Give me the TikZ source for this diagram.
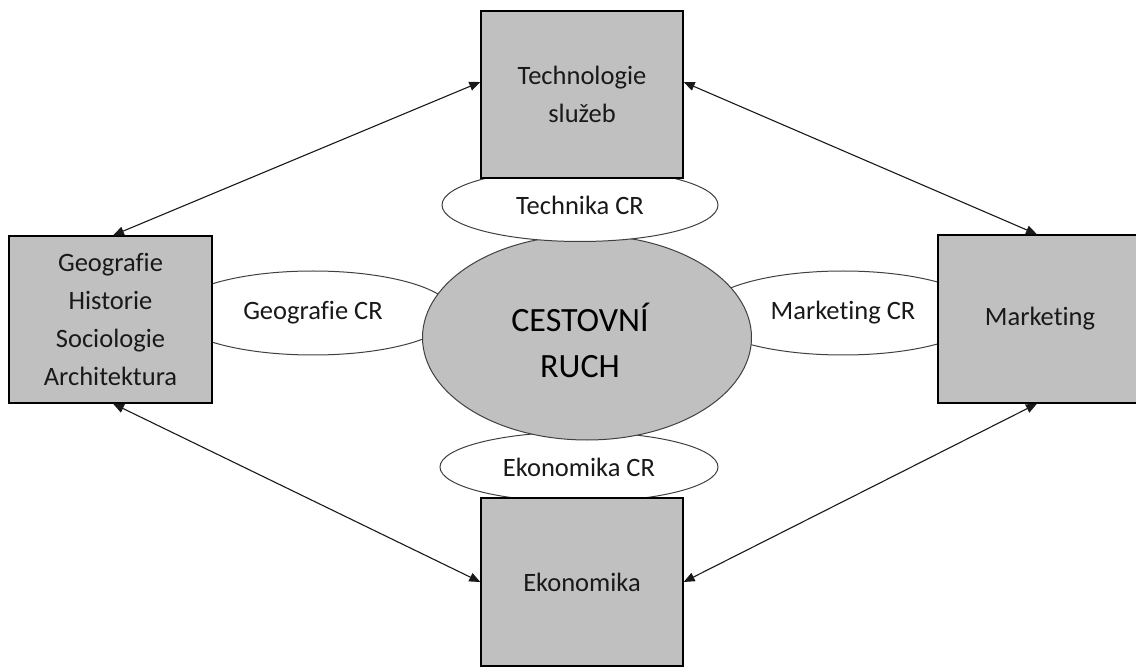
\documentclass[tikz,border=0pt]{standalone}
\usepackage{fontspec}
\setmainfont{Carlito}[Ligatures=NoCommon]
\usetikzlibrary{shapes.geometric,arrows.meta}
\definecolor{boxgray}{RGB}{192,192,192}
\definecolor{txt}{RGB}{25,25,25}
\begin{document}
\begin{tikzpicture}[x=1pt,y=-1pt,
  box/.style={draw=black, fill=boxgray, line width=1.3pt, inner sep=0pt, align=center,
    text=txt, font=\fontsize{26.5}{38}\selectfont},
  subell/.style={ellipse, draw=black!75, fill=white, line width=1pt, inner sep=0pt,
    text=txt, font=\fontsize{26.5}{38}\selectfont},
  mainell/.style={ellipse, draw=black!75, fill=boxgray, line width=1pt, inner sep=0pt},
  maintext/.style={align=center, text=black, inner sep=0pt, font=\fontsize{34}{46}\selectfont},
  arr/.style={line width=1.1pt, draw=black!90,
    {Triangle[length=11pt,width=9pt]}-{Triangle[length=11pt,width=9pt]}}]
\useasboundingbox (0,0) rectangle (1136,668);
\begin{scope}
\clip (0,0) rectangle (1136,668);
% small ellipses behind the central one
\node[subell, minimum width=278pt, minimum height=70pt] (ek) at (579,467) {Ekonomika CR};
\node[subell, minimum width=280pt, minimum height=84pt] (ge) at (313,313) {Geografie CR};
\node[subell, minimum width=280pt, minimum height=84pt] (ma) at (843,313) {Marketing CR};
% central ellipse
\node[mainell, minimum width=329pt, minimum height=205pt] (c) at (587,337.5) {};
\node[maintext] (ct) at (580,340) {CESTOVNÍ\\RUCH};
% ellipse in front of the central one
\node[subell, minimum width=276pt, minimum height=73pt] (te) at (580,205) {Technika CR};
% boxes
\node[box, minimum width=202pt, minimum height=167pt] (T) at (582,94.5) {Technologie\\služeb};
\node[box, minimum width=203pt, minimum height=167pt] (L) at (110.5,319.5) {Geografie\\Historie\\Sociologie\\Architektura};
\node[box, minimum width=204pt, minimum height=168pt] (R) at (1040,319) {Marketing};
\node[box, minimum width=202pt, minimum height=168pt] (B) at (582,582) {Ekonomika};
\end{scope}
% connectors
\draw[arr] ([yshift=12.5pt]T.west) -- ([xshift=2.5pt]L.north);
\draw[arr] ([yshift=12.5pt]T.east) -- ([xshift=-3pt]R.north);
\draw[arr] ([xshift=2.5pt]L.south) -- (B.west);
\draw[arr] ([xshift=-3pt]R.south) -- (B.east);
\end{tikzpicture}
\end{document}
